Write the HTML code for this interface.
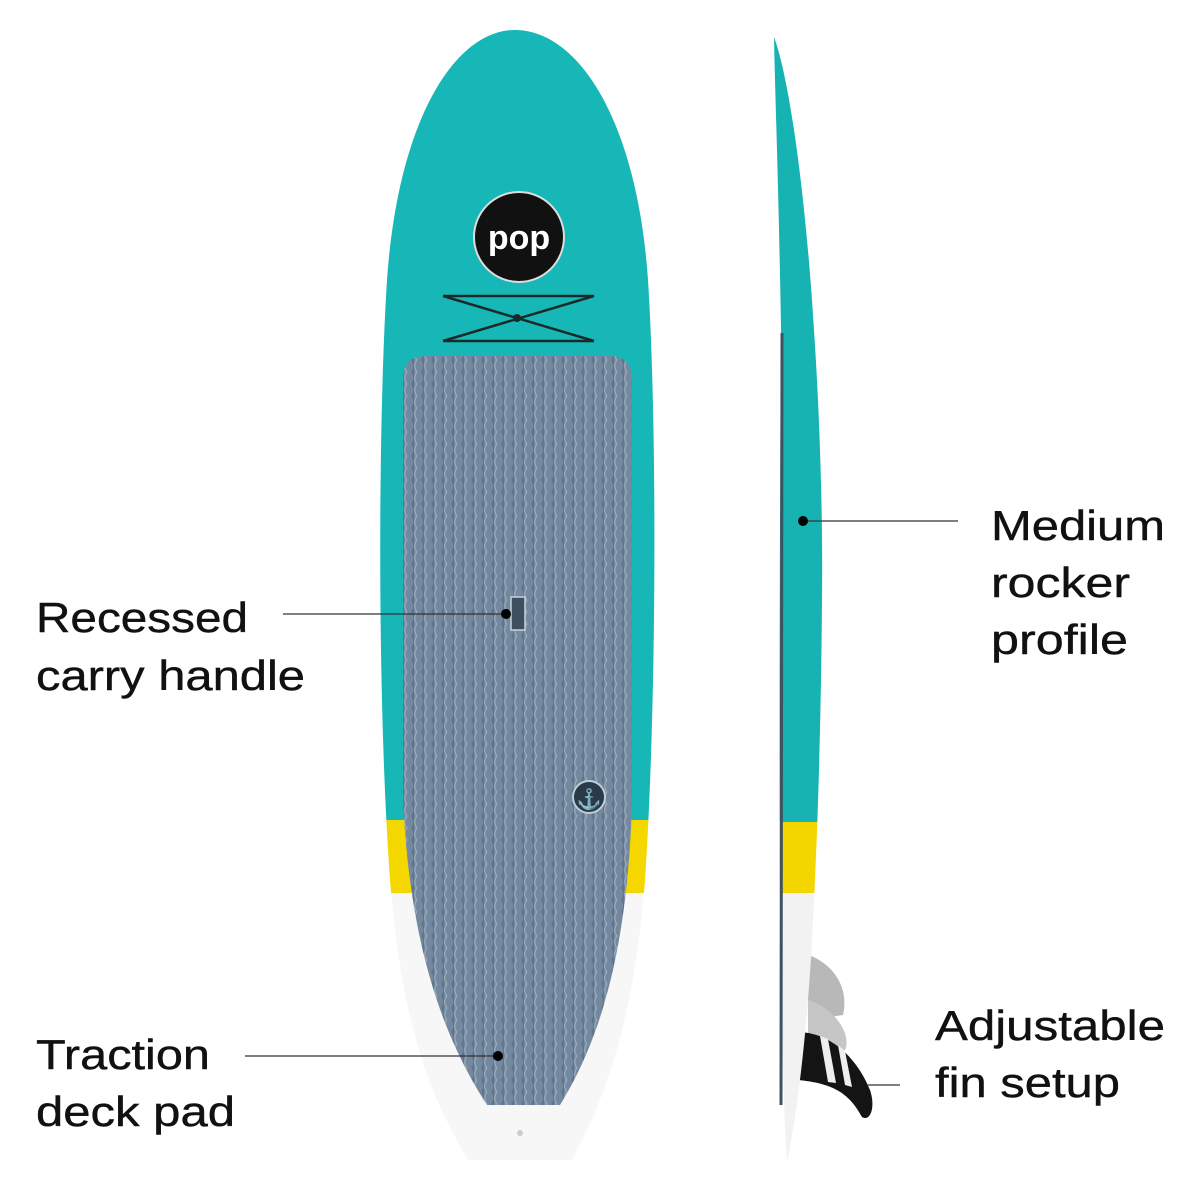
<!DOCTYPE html>
<html><head><meta charset="utf-8"><style>
html,body{margin:0;padding:0;background:#fff;}
svg{display:block}
text{font-family:"Liberation Sans",sans-serif;font-size:42px;fill:#111;stroke:#111;stroke-width:0.4;}
</style></head><body>
<svg width="1200" height="1200" viewBox="0 0 1200 1200" xmlns="http://www.w3.org/2000/svg">
<defs>
<clipPath id="fb"><path d="M515,30 C455,30 398,120 387,280 C378,420 377,700 390,880 C400,1000 420,1080 468,1160 L572,1160 C615,1080 635,1000 645,880 C657,700 657,420 648,280 C637,120 578,30 515,30 Z"/></clipPath>
<clipPath id="sb"><path d="M774,37 C790,80 806,200 814,330 C820,420 823,520 822,600 C821,720 818,820 814,900 C810,1000 800,1100 787,1162 C783,1100 781,1000 780,900 C779,700 780,500 781,330 C779,200 775,90 774,37 Z"/></clipPath>
<pattern id="wv" width="10" height="12" patternUnits="userSpaceOnUse">
<rect width="10" height="12" fill="#74899f"/>
<path d="M2,0 C5,3 5,9 2,12" stroke="#5d728b" stroke-width="2" fill="none"/>
<path d="M7,0 C4,3 4,9 7,12" stroke="#98aabb" stroke-width="1.4" fill="none"/>
</pattern>
</defs>
<g clip-path="url(#fb)">
<rect x="370" y="20" width="300" height="800" fill="#17b7b7"/>
<rect x="370" y="820" width="300" height="73" fill="#f5d700"/>
<rect x="370" y="893" width="300" height="280" fill="#f7f7f7"/>
</g>
<path d="M425,356 L610,356 Q632,356 632,380 L632,800 C628,950 600,1040 560,1105 L487,1105 C445,1040 410,950 403,800 L403,380 Q403,356 425,356 Z" fill="url(#wv)"/>
<circle cx="519" cy="237" r="45" fill="#111" stroke="#ddd" stroke-width="2"/>
<text x="519" y="249" text-anchor="middle" style="font-size:34px;font-weight:bold;fill:#fff;stroke:none">pop</text>
<g stroke="#1a2a2a" stroke-width="2.5" fill="none">
<line x1="443" y1="296" x2="594" y2="296"/>
<line x1="443" y1="341" x2="594" y2="341"/>
<line x1="443" y1="296" x2="594" y2="341"/>
<line x1="594" y1="296" x2="443" y2="341"/>
</g>
<circle cx="517" cy="318" r="4" fill="#1a2a2a"/>
<rect x="511" y="597" width="14" height="33" fill="#3e5060" stroke="#c8d2da" stroke-width="1.5"/>
<circle cx="589" cy="797" r="16" fill="#2a3a48" stroke="#c0ccd6" stroke-width="2"/>
<text x="589" y="806" text-anchor="middle" style="font-size:20px;fill:#c0ccd6;stroke:none">⚓</text>
<circle cx="520" cy="1133" r="3" fill="#ccc"/>
<!-- side fins -->
<path d="M808,955 C830,962 850,985 843,1015 L808,1020 Z" fill="#b8b8b8"/>
<path d="M808,1000 C835,1008 852,1035 845,1050 L808,1055 Z" fill="#c6c6c6"/>
<path d="M797,1032 C832,1032 858,1060 870,1090 C876,1108 870,1122 862,1117 C850,1095 835,1083 797,1080 Z" fill="#141414"/>
<polygon points="820,1036 828,1039 836,1083 828,1082" fill="#eee"/>
<polygon points="838,1045 845,1051 852,1087 845,1085" fill="#eee"/>
<g clip-path="url(#sb)">
<rect x="760" y="20" width="80" height="802" fill="#17b2b2"/>
<rect x="760" y="822" width="80" height="71" fill="#f3d600"/>
<rect x="760" y="893" width="80" height="280" fill="#f2f2f2"/>
</g>
<line x1="782" y1="333" x2="781" y2="1105" stroke="#3e5262" stroke-width="3"/>
<!-- callouts -->
<g stroke="#333" stroke-width="1.3">
<line x1="283" y1="614" x2="506" y2="614"/>
<line x1="245" y1="1056" x2="498" y2="1056"/>
<line x1="803" y1="521" x2="958" y2="521"/>
<line x1="868" y1="1085" x2="900" y2="1085"/>
</g>
<g fill="#000"><circle cx="506" cy="614" r="5"/><circle cx="498" cy="1056" r="5"/><circle cx="803" cy="521" r="5"/></g>
<text x="36" y="632" textLength="212" lengthAdjust="spacingAndGlyphs">Recessed</text>
<text x="36" y="690" textLength="269" lengthAdjust="spacingAndGlyphs">carry handle</text>
<text x="36" y="1069" textLength="174" lengthAdjust="spacingAndGlyphs">Traction</text>
<text x="36" y="1126" textLength="199" lengthAdjust="spacingAndGlyphs">deck pad</text>
<text x="991" y="540" textLength="174" lengthAdjust="spacingAndGlyphs">Medium</text>
<text x="991" y="597" textLength="139" lengthAdjust="spacingAndGlyphs">rocker</text>
<text x="991" y="654" textLength="137" lengthAdjust="spacingAndGlyphs">profile</text>
<text x="935" y="1040" textLength="230" lengthAdjust="spacingAndGlyphs">Adjustable</text>
<text x="935" y="1097" textLength="185" lengthAdjust="spacingAndGlyphs">fin setup</text>
</svg>
</body></html>
